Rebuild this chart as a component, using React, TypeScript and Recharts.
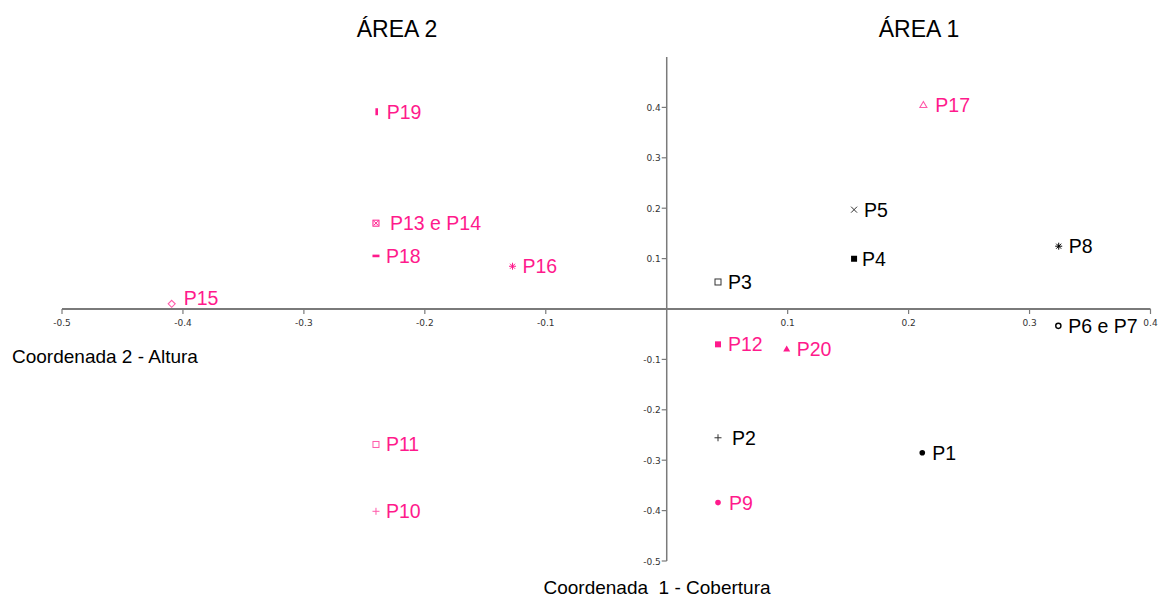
import { ScatterChart, Scatter, XAxis, YAxis, ReferenceLine } from "recharts";

// Área 1 points (black)
const blackNames = ["P1", "P2", "P3", "P4", "P5", "P6 e P7", "P8"];
const blackX = [0.2113, 0.0424, 0.0424, 0.1549, 0.1549, 0.3238, 0.3241];
const blackY = [-0.2853, -0.2555, 0.0536, 0.0997, 0.1971, -0.0334, 0.1246];
const blackSymbols = ["dot", "plus", "squareOpen", "square", "cross", "circleOpen", "star"];

// Área 2 points (pink)
const pinkNames = ["P9", "P10", "P11", "P12", "P13 e P14", "P15", "P16", "P17", "P18", "P19", "P20"];
const pinkX = [0.0424, -0.2404, -0.2404, 0.0424, -0.2404, -0.4093, -0.1275, 0.2122, -0.2404, -0.2398, 0.0992];
const pinkY = [-0.3841, -0.4014, -0.2688, -0.0701, 0.1703, 0.0103, 0.0848, 0.4047, 0.1053, 0.3914, -0.0795];
const pinkSymbols = ["dot", "plus", "squareOpen", "square", "boxX", "diamondOpen", "star", "triangleOpen", "dash", "bar", "triangle"];

const xTicks = [-0.5, -0.4, -0.3, -0.2, -0.1, 0.1, 0.2, 0.3, 0.4];
const yTicks = [0.4, 0.3, 0.2, 0.1, -0.1, -0.2, -0.3, -0.4, -0.5];

const BLACK = "#000000";
const PINK = "#ff1a8c";
const PINK_LIGHT = "#ff5aaa";
const AXIS = "#7a7a7a";

// label nudges (px) where the original placed a label off the usual spot
const labelNudge: Record<string, [number, number]> = {
  "P13 e P14": [4, 0],
  P2: [4, 0],
  P4: [-2, 0],
  P15: [2, -6],
  P9: [1, 0],
  P17: [2, 0],
};

const toPoints = (names: string[], xs: number[], ys: number[], symbols: string[]) =>
  names.map((name, i) => ({ name, x: xs[i], y: ys[i], symbol: symbols[i] }));

const blackData = toPoints(blackNames, blackX, blackY, blackSymbols);
const pinkData = toPoints(pinkNames, pinkX, pinkY, pinkSymbols);
const xTickData = xTicks.map((t) => ({ x: t, y: 0, label: String(t) }));
const yTickData = yTicks.map((t) => ({ x: 0, y: t, label: String(t) }));

const drawSymbol = (symbol: string, cx: number, cy: number, color: string, light: string) => {
  switch (symbol) {
    case "dot":
      return <circle cx={cx} cy={cy} r={2.8} fill={color} />;
    case "circleOpen":
      return <circle cx={cx} cy={cy} r={2.6} fill="#fff" stroke={color} strokeWidth={1.4} />;
    case "square":
      return <rect x={cx - 3} y={cy - 3} width={6} height={6} fill={color} />;
    case "squareOpen":
      return <rect x={cx - 3} y={cy - 3} width={6} height={6} fill="#fff" stroke={light} strokeWidth={1} />;
    case "plus":
      return (
        <g stroke={light} strokeWidth={1}>
          <line x1={cx - 3.5} y1={cy} x2={cx + 3.5} y2={cy} />
          <line x1={cx} y1={cy - 3.5} x2={cx} y2={cy + 3.5} />
        </g>
      );
    case "cross":
      return (
        <g stroke={light} strokeWidth={1}>
          <line x1={cx - 3} y1={cy - 3} x2={cx + 3} y2={cy + 3} />
          <line x1={cx - 3} y1={cy + 3} x2={cx + 3} y2={cy - 3} />
        </g>
      );
    case "star":
      return (
        <g stroke={color} strokeWidth={1}>
          <line x1={cx - 3.5} y1={cy} x2={cx + 3.5} y2={cy} />
          <line x1={cx} y1={cy - 3.5} x2={cx} y2={cy + 3.5} />
          <line x1={cx - 2.5} y1={cy - 2.5} x2={cx + 2.5} y2={cy + 2.5} />
          <line x1={cx - 2.5} y1={cy + 2.5} x2={cx + 2.5} y2={cy - 2.5} />
        </g>
      );
    case "triangle":
      return <polygon points={`${cx},${cy - 3.5} ${cx + 3.5},${cy + 2.5} ${cx - 3.5},${cy + 2.5}`} fill={color} />;
    case "triangleOpen":
      return (
        <polygon
          points={`${cx},${cy - 3.5} ${cx + 3.5},${cy + 2.5} ${cx - 3.5},${cy + 2.5}`}
          fill="#fff"
          stroke={light}
          strokeWidth={1.1}
        />
      );
    case "diamondOpen":
      return (
        <polygon
          points={`${cx},${cy - 3.5} ${cx + 3.5},${cy} ${cx},${cy + 3.5} ${cx - 3.5},${cy}`}
          fill="#fff"
          stroke={light}
          strokeWidth={1.1}
        />
      );
    case "bar":
      return <rect x={cx - 1.3} y={cy - 3.5} width={2.6} height={7} fill={color} />;
    case "dash":
      return <rect x={cx - 3.5} y={cy - 1.3} width={7} height={2.6} fill={color} />;
    case "boxX":
      return (
        <g>
          <rect x={cx - 3} y={cy - 3} width={6} height={6} fill="#fff" stroke={color} strokeWidth={1} />
          <line x1={cx - 2} y1={cy - 2} x2={cx + 2} y2={cy + 2} stroke={color} strokeWidth={1} />
          <line x1={cx - 2} y1={cy + 2} x2={cx + 2} y2={cy - 2} stroke={color} strokeWidth={1} />
        </g>
      );
    default:
      return null;
  }
};

const pointShape = (color: string, light: string) => (props: any) => {
  const { cx, cy, payload } = props;
  const [dx, dy] = labelNudge[payload.name] ?? [0, 0];
  return (
    <g>
      {drawSymbol(payload.symbol, cx, cy, color, light)}
      <text
        x={cx + 10 + dx}
        y={cy + 7 + dy}
        fill={color}
        fontSize={19.5}
        fontFamily="'Liberation Sans', Arial, sans-serif"
      >
        {payload.name}
      </text>
    </g>
  );
};

const xTickShape = (props: any) => {
  const { cx, cy, payload } = props;
  return (
    <g>
      <line x1={cx} y1={cy} x2={cx} y2={cy + 5} stroke={AXIS} strokeWidth={1.2} />
      <text x={cx} y={cy + 17} textAnchor="middle" fontSize={9} fill="#333" fontFamily="'DejaVu Sans', Tahoma, sans-serif">
        {payload.label}
      </text>
    </g>
  );
};

const yTickShape = (props: any) => {
  const { cx, cy, payload } = props;
  return (
    <g>
      <line x1={cx - 5} y1={cy} x2={cx} y2={cy} stroke={AXIS} strokeWidth={1.2} />
      <text x={cx - 6} y={cy + 3.5} textAnchor="end" fontSize={9} fill="#333" fontFamily="'DejaVu Sans', Tahoma, sans-serif">
        {payload.label}
      </text>
    </g>
  );
};

const textStyle = {
  position: "absolute" as const,
  fontFamily: "'Liberation Sans', Arial, sans-serif",
  color: "#000",
  whiteSpace: "pre" as const,
  lineHeight: 1,
};

export default function App() {
  return (
    <div style={{ position: "absolute", left: 0, top: 0, width: 1159, height: 597, background: "#fff" }}>
      <ScatterChart width={1159} height={597} margin={{ top: 57, right: 8.5, bottom: 36, left: 62 }}>
        <XAxis type="number" dataKey="x" domain={[-0.5, 0.4]} hide />
        <YAxis type="number" dataKey="y" domain={[-0.5, 0.5]} hide width={0} />
        <ReferenceLine y={0} stroke={AXIS} strokeWidth={1.8} />
        <ReferenceLine x={0} stroke={AXIS} strokeWidth={1.5} />
        <Scatter data={xTickData} shape={xTickShape} isAnimationActive={false} />
        <Scatter data={yTickData} shape={yTickShape} isAnimationActive={false} />
        <Scatter data={blackData} shape={pointShape(BLACK, "#333")} isAnimationActive={false} />
        <Scatter data={pinkData} shape={pointShape(PINK, PINK_LIGHT)} isAnimationActive={false} />
      </ScatterChart>
      <div style={{ ...textStyle, left: 0, width: 794, top: 18, fontSize: 23, textAlign: "center" }}>ÁREA 2</div>
      <div style={{ ...textStyle, left: 0, width: 1838, top: 18, fontSize: 23, textAlign: "center" }}>ÁREA 1</div>
      <div style={{ ...textStyle, left: 12, top: 347, fontSize: 19 }}>Coordenada 2 - Altura</div>
      <div style={{ ...textStyle, left: 0, width: 1314, top: 580, fontSize: 19, lineHeight: "16px", textAlign: "center" }}>
        {"Coordenada  1 - Cobertura"}
      </div>
    </div>
  );
}
